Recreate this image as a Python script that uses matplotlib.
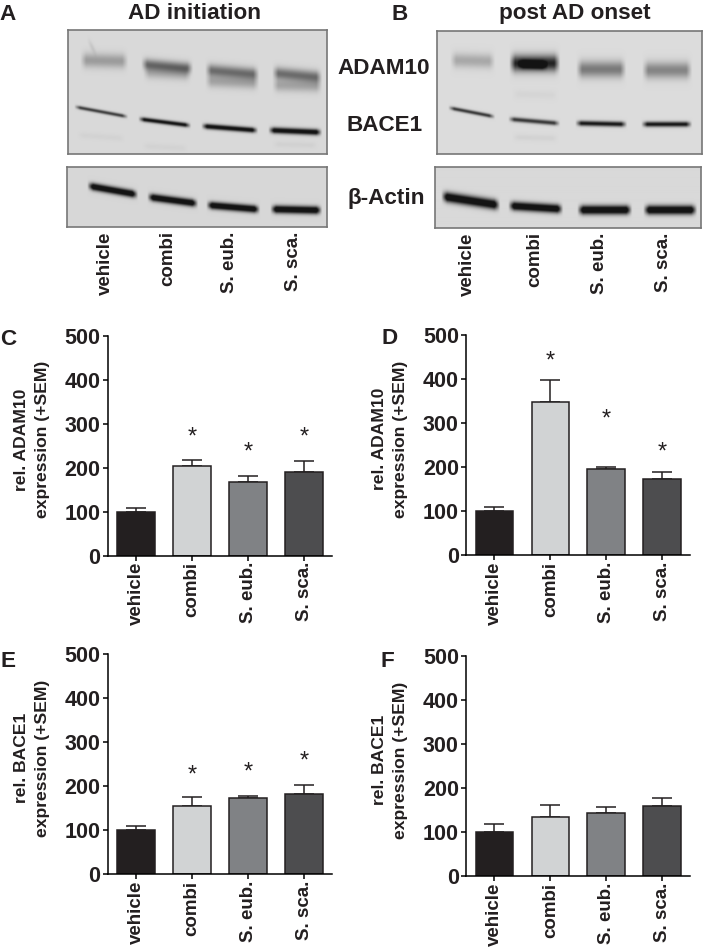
import numpy as np
import matplotlib
matplotlib.use("Agg")
import matplotlib.pyplot as plt

plt.rcParams['font.family'] = ['Liberation Sans', 'DejaVu Sans']

W, H = 703, 948

groups = ['vehicle', 'combi', 'S. eub.', 'S. sca.']
bar_colors = ['#231f20', '#d1d3d4', '#808285', '#4d4d4f']

adam10_init = [100, 204, 167, 190]
adam10_init_sem = [8, 13, 14, 26]
adam10_init_star = [None, 268, 234, 268]
adam10_post = [100, 348, 196, 172]
adam10_post_sem = [8, 50, 4, 17]
adam10_post_star = [None, 439, 307, 234]
bace1_init = [100, 154, 172, 182]
bace1_init_sem = [10, 20, 6, 21]
bace1_init_star = [None, 223, 230, 255]
bace1_post = [100, 134, 144, 158]
bace1_post_sem = [19, 28, 12, 20]
bace1_post_star = [None, None, None, None]
y_ticks = [0, 100, 200, 300, 400, 500]

# blot bands: x start, x end, y start, y end, blur, darkness
bands_a_top = [
    (83, 125, 60, 61, 7, 0.24), (90, 94, 44, 50, 4, 0.1),
    (144, 190, 64, 68, 5.5, 0.42), (146, 188, 72, 74, 6, 0.18),
    (208, 256, 70, 74, 6, 0.42), (208, 256, 81, 83, 6, 0.2),
    (275, 319, 73, 77, 6, 0.42), (275, 319, 85, 86, 6, 0.2),
    (77, 125, 107, 116, 1.8, 0.62), (141, 188, 119, 125, 2.2, 0.82),
    (204, 255, 126, 130, 2.6, 0.88), (271, 319, 130, 132, 3, 0.9),
    (80, 122, 135, 138, 3, 0.025), (145, 185, 146, 148, 3, 0.025), (275, 315, 144, 145, 3, 0.03),
]
bands_a_act = [
    (90, 135, 186, 194, 3.6, 1.0), (150, 195, 197, 203, 3.6, 1.0),
    (209, 257, 205, 209, 3.6, 1.0), (273, 319, 209, 210, 3.8, 1.0),
]
bands_b_top = [
    (453, 492, 60, 61, 7, 0.2), (512, 557, 63, 63, 8, 0.72), (520, 545, 64, 65, 4, 0.5),
    (579, 623, 69, 69, 8, 0.38), (645, 689, 70, 70, 8, 0.34),
    (451, 492, 108, 116, 1.9, 0.65), (511, 557, 119, 123, 2.3, 0.65),
    (578, 624, 123, 124, 2.6, 0.78), (644, 689, 124, 124, 2.6, 0.78),
    (515, 555, 137, 138, 3, 0.035), (515, 555, 94, 95, 4, 0.025),
]
bands_b_act = [
    (444, 497, 197, 205, 4.8, 1.0), (511, 560, 206, 209, 4.2, 1.0),
    (580, 629, 210, 210, 4.4, 1.0), (646, 694, 210, 210, 4.4, 1.0),
]
blot_a_lanes = [105, 168, 229, 293]
blot_b_lanes = [467, 535, 600, 663]


def px_axes(fig, left, top, right, bottom):
    return fig.add_axes([left / W, 1 - bottom / H, (right - left) / W, (bottom - top) / H])


def px_text(fig, x, y, s, **kw):
    fig.text(x / W, 1 - y / H, s, ha=kw.pop('ha', 'center'), va=kw.pop('va', 'center'), **kw)


def draw_blot(fig, box, bands, bg, lanes=None):
    left, top, right, bottom = box
    ax = px_axes(fig, left, top, right, bottom)
    xx, yy = np.meshgrid(np.arange(left, right, 0.5), np.arange(top, bottom, 0.5))
    img = np.full(xx.shape, bg, dtype=float)
    for x0, x1, y0, y1, blur, dark in bands:
        line = y0 + (y1 - y0) * (xx - x0) / (x1 - x0)
        side = np.clip((xx - x0) / 6 + 0.5, 0, 1) * np.clip((x1 - xx) / 6 + 0.5, 0, 1)
        img -= dark * np.exp(-((yy - line) / blur) ** 2) * side
    ax.imshow(np.clip(img, 0.08, 1), cmap='gray', vmin=0, vmax=1, aspect='auto',
              extent=(left, right, bottom, top), interpolation='bilinear')
    for s in ax.spines.values():
        s.set_color('#777777')
        s.set_linewidth(1.2)
    ax.set_yticks([])
    if lanes:
        ax.set_xticks(lanes)
        ax.set_xticklabels(groups, rotation=90, fontsize=13.5, fontweight='bold', color='#231f20')
        ax.tick_params(axis='x', length=0, pad=3)
    else:
        ax.set_xticks([])
    return ax


def draw_bars(fig, box, values, sem, stars, ylabel):
    left, top, right, bottom = box
    ax = px_axes(fig, left, top, right, bottom)
    pos = np.arange(len(groups))
    ax.bar(pos, values, width=0.67, color=bar_colors, edgecolor='#231f20', linewidth=1.1,
           zorder=2)
    ax.errorbar(pos, values, yerr=[np.zeros(len(sem)), sem], fmt='none', ecolor='#231f20',
                elinewidth=1.1, capsize=7, capthick=1.1, zorder=1)
    for p, s in zip(pos, stars):
        if s is not None:
            ax.text(p, s, '*', ha='center', va='center', fontsize=17, color='#231f20')
    ax.set_xlim(-0.51, 3.5)
    ax.set_ylim(0, 500)
    ax.set_yticks(y_ticks)
    ax.set_xticks(pos)
    ax.set_xticklabels(groups, rotation=90, fontsize=13.5, fontweight='bold', color='#231f20')
    ax.tick_params(axis='y', labelsize=15.5, labelcolor='#231f20', length=3.6, width=1.1, pad=1.5)
    for lab in ax.get_yticklabels():
        lab.set_fontweight('bold')
    ax.tick_params(axis='x', length=3.6, width=1.1, pad=1)
    ax.spines['top'].set_visible(False)
    ax.spines['right'].set_visible(False)
    ax.spines['left'].set_linewidth(1.1)
    ax.spines['bottom'].set_linewidth(1.1)
    ax.patch.set_alpha(0)
    px_text(fig, left - 76, (top + bottom) / 2 - 6, ylabel, rotation=90, fontsize=12.6,
            color='#231f20', fontweight='bold', linespacing=1.5)
    return ax


fig = plt.figure(figsize=(W / 100, H / 100), dpi=100, facecolor='white')

draw_blot(fig, (68, 30, 327, 154), bands_a_top, 0.85)
draw_blot(fig, (67, 167, 327, 227), bands_a_act, 0.84, blot_a_lanes)
draw_blot(fig, (437, 31, 702, 154), bands_b_top, 0.86)
draw_blot(fig, (435, 167, 701, 228), bands_b_act, 0.85, blot_b_lanes)

draw_bars(fig, (107.5, 335.7, 332, 555.7), adam10_init, adam10_init_sem, adam10_init_star,
          'rel. ADAM10\nexpression (+SEM)')
draw_bars(fig, (466, 335, 690, 555), adam10_post, adam10_post_sem, adam10_post_star,
          'rel. ADAM10\nexpression (+SEM)')
draw_bars(fig, (107.5, 654, 332, 874), bace1_init, bace1_init_sem, bace1_init_star,
          'rel. BACE1\nexpression (+SEM)')
draw_bars(fig, (466, 656, 690, 876), bace1_post, bace1_post_sem, bace1_post_star,
          'rel. BACE1\nexpression (+SEM)')

title_style = dict(fontsize=16.2, fontweight='bold', color='#231f20')
px_text(fig, 195, 19, 'AD initiation', va='baseline', **title_style)
px_text(fig, 575, 19, 'post AD onset', va='baseline', **title_style)
px_text(fig, 383.5, 74, 'ADAM10', va='baseline', **title_style)
px_text(fig, 385, 131, 'BACE1', va='baseline', **title_style)
px_text(fig, 386, 204, 'β-Actin', va='baseline', **title_style)

for letter, x, y in [('A', 8, 20), ('B', 400, 20), ('C', 8, 345),
                     ('D', 390, 344), ('E', 8, 667), ('F', 387, 667)]:
    px_text(fig, x, y, letter, va='baseline', **title_style)

fig.savefig('out.png', dpi=100)
